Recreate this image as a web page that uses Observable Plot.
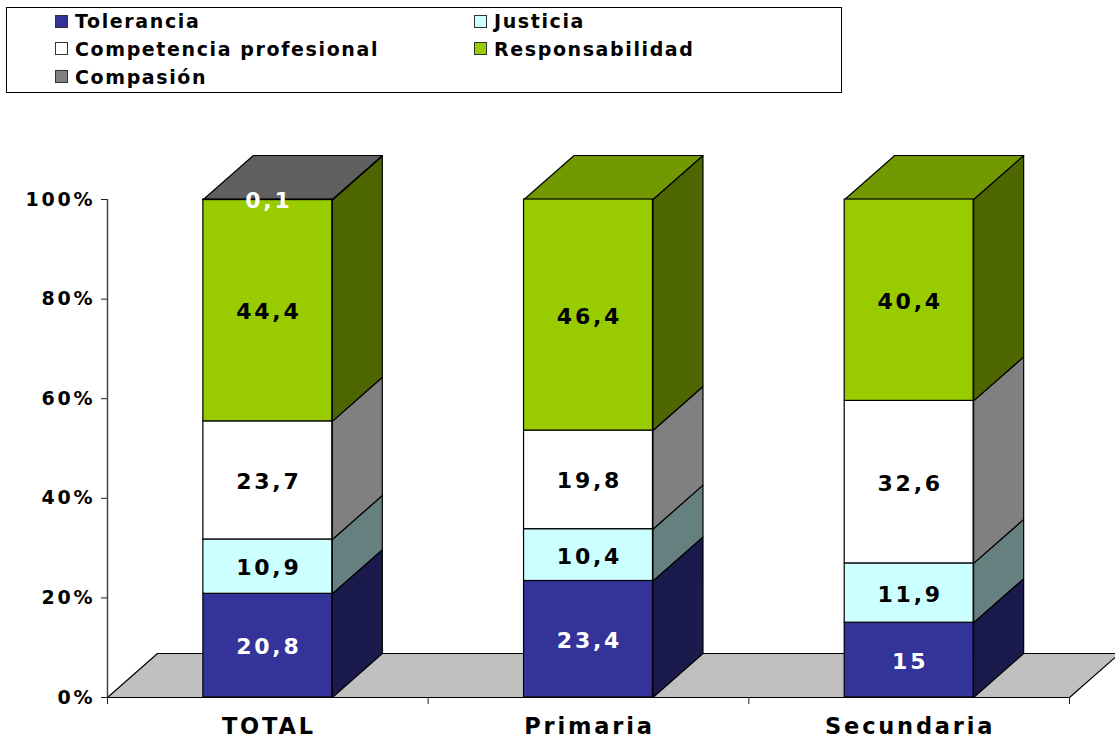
<!DOCTYPE html>
<html><head><meta charset="utf-8">
<script src="https://cdn.jsdelivr.net/npm/d3@7"></script>
<script src="https://cdn.jsdelivr.net/npm/@observablehq/plot@0.6"></script>
<style>
html,body{margin:0;padding:0;background:#fff;overflow:hidden}
#legend{position:relative;height:100px;font:bold 19px "DejaVu Sans",sans-serif;color:#000}
#legend .box{position:absolute;left:6px;top:7px;width:836px;height:86px;border:1px solid #000;box-sizing:border-box}
#legend .sw{position:absolute;width:13px;height:13px;border:1px solid #333;box-sizing:border-box}
#legend .tx{position:absolute;white-space:nowrap;line-height:20px;letter-spacing:.085em}
svg g[aria-label="text"] text{letter-spacing:.125em}
svg g[aria-label="y-axis tick label"] text{letter-spacing:.15em}
svg{display:block}
</style></head><body>
<div id="legend"><div class="box"></div></div>
<div id="chart"></div>
<script>
const categories = ["TOTAL", "Primaria", "Secundaria"];
const seriesNames = ["Tolerancia", "Justicia", "Competencia profesional", "Responsabilidad", "Compasión"];
const tolerancia = [20.8, 23.4, 15];
const justicia = [10.9, 10.4, 11.9];
const competencia = [23.7, 19.8, 32.6];
const responsabilidad = [44.4, 46.4, 40.4];
const compasion = [0.1, 0, 0];
const frontColors = ["#333399", "#CCFFFF", "#FFFFFF", "#99CC00", "#808080"];
const sideColors = ["#1A1A4D", "#668080", "#808080", "#4D6600", "#404040"];
const topColors = ["#26267F", "#99BFBF", "#BFBFBF", "#739900", "#606060"];
const labelColors = ["#fff", "#000", "#000", "#000", "#fff"];
const yTicks = [0, 20, 40, 60, 80, 100];
const xTicks = [0, 1, 2, 3];

const barW = 0.402, depthX = 0.156, depthY = 8.84;
const font = "'DejaVu Sans', sans-serif";
const series = [tolerancia, justicia, competencia, responsabilidad, compasion];

const segments = [], faces = [];
categories.forEach((c, i) => {
  const total = d3.sum(series, s => s[i]);
  const x1 = i + 0.5 - barW / 2, x2 = i + 0.5 + barW / 2;
  let acc = 0, last = null;
  series.forEach((s, k) => {
    if (s[i] === 0) return;
    const y1 = acc / total * 100, y2 = (acc + s[i]) / total * 100;
    acc += s[i];
    last = {c, k, x1, x2, y1, y2, v: s[i]};
    segments.push(last);
    faces.push({fill: sideColors[k], pts: [
      {x: x2, y: y1}, {x: x2 + depthX, y: y1 + depthY},
      {x: x2 + depthX, y: y2 + depthY}, {x: x2, y: y2}]});
  });
  faces.push({fill: topColors[last.k], pts: [
    {x: x1, y: 100}, {x: x2, y: 100},
    {x: x2 + depthX, y: 100 + depthY}, {x: x1 + depthX, y: 100 + depthY}]});
});
const floor = [{x: 0, y: 0}, {x: 3, y: 0}, {x: 3 + depthX, y: depthY}, {x: depthX, y: depthY}];
const poly = (pts, fill) => Plot.line(pts, {x: "x", y: "y", fill, stroke: "#000", strokeWidth: 1.2, curve: "linear-closed"});

const plot = Plot.plot({
  width: 1115, height: 640,
  marginLeft: 107, marginRight: 46, marginTop: 99, marginBottom: 43,
  x: {domain: [0, 3]},
  y: {domain: [0, 100]},
  style: {fontFamily: font, background: "transparent", overflow: "hidden"},
  marks: [
    poly(floor, "#C0C0C0"),
    Plot.ruleX([0], {y1: 0, y2: 100, stroke: "#444", strokeWidth: 1.5}),
    Plot.axisY({ticks: yTicks, tickFormat: d => d + "%", tickSize: 6, tickPadding: 6, stroke: "#222",
      fontSize: 19, fontWeight: "bold", fill: "#000", label: null}),
    Plot.axisX({ticks: xTicks, tickFormat: () => "", tickSize: 7, stroke: "#222", label: null}),
    ...faces.map(f => poly(f.pts, f.fill)),
    Plot.rect(segments, {x1: "x1", x2: "x2", y1: "y1", y2: "y2", fill: d => frontColors[d.k], stroke: "#000", strokeWidth: 1.2, inset: 0}),
    Plot.text(segments, {
      x: d => (d.x1 + d.x2) / 2, y: d => (d.y1 + d.y2) / 2,
      text: d => String(d.v).replace(".", ","), fill: d => labelColors[d.k],
      fontSize: 22, fontWeight: "bold", dx: 1, dy: 1.5
    }),
    Plot.text(categories, {
      x: (d, i) => i + 0.5, y: 0, text: d => d, dy: 29, dx: 1, fill: "#000",
      fontSize: 22.5, fontWeight: "bold"
    })
  ]
});
document.getElementById("chart").appendChild(plot);

const lg = document.getElementById("legend");
seriesNames.forEach((name, i) => {
  const col = i % 2, row = Math.floor(i / 2);
  const sw = document.createElement("div");
  sw.className = "sw";
  sw.style.left = (col ? 474 : 55) + "px";
  sw.style.top = [15, 42, 70][row] + "px";
  sw.style.background = frontColors[i];
  lg.appendChild(sw);
  const t = document.createElement("div");
  t.className = "tx";
  t.textContent = name;
  t.style.left = (col ? 494 : 75) + "px";
  t.style.top = [11, 39, 67][row] + "px";
  lg.appendChild(t);
});
</script>
</body></html>
